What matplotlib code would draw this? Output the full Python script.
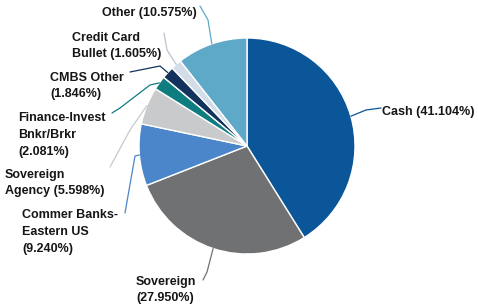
import matplotlib.pyplot as plt
import numpy as np

labels = ["Cash", "Sovereign", "Commer Banks-\nEastern US", "Sovereign\nAgency",
          "Finance-Invest\nBnkr/Brkr", "CMBS Other", "Credit Card\nBullet", "Other"]
values = [41.104, 27.950, 9.240, 5.598, 2.081, 1.846, 1.605, 10.575]
colors = ["#0b5599", "#707173", "#4a86c9", "#c9cacc", "#0f7c80", "#13335e", "#d3dde7", "#5ea8c8"]

# label text as shown, with line breaks
texts = ["Cash (41.104%)", "Sovereign\n(27.950%)", "Commer Banks-\nEastern US\n(9.240%)",
         "Sovereign\nAgency (5.598%)", "Finance-Invest\nBnkr/Brkr\n(2.081%)",
         "CMBS Other\n(1.846%)", "Credit Card\nBullet (1.605%)", "Other (10.575%)"]

W, H = 478, 307
cx, cy, R = 247, 146, 108  # pie centre / radius in pixels (y from top)

# text placement (pixel, y from top), alignment, and leader line end at text side
tpos = [(382, 112, "left"), (136, 290, "left"), (22, 232, "left"), (5, 183, "left"),
        (18, 135, "left"), (50, 86, "left"), (72, 46, "left"), (197, 13, "right")]
lend = [[(366, 110), (381, 108)], [(207, 272), (203, 280)], [(135, 156), (125, 213)],
        [(130, 130), (110, 167)], [(150, 85), (120, 108), (112, 113)],
        [(160, 66), (130, 72)], [(167, 50), (164, 33)], [(208, 20), (200, 6)]]

fig = plt.figure(figsize=(W / 100, H / 100), dpi=100)
ax = fig.add_axes([0, 0, 1, 1])

wedges, _ = ax.pie(values, colors=colors, startangle=90, counterclock=False,
                   center=(cx, H - cy), radius=R,
                   wedgeprops=dict(edgecolor="white", linewidth=1.0))
ax.set_xlim(0, W)
ax.set_ylim(0, H)
ax.set_aspect("equal")
ax.axis("off")

for w, txt, (tx, ty, ha), pts, col in zip(wedges, texts, tpos, lend, colors):
    ang = np.deg2rad((w.theta1 + w.theta2) / 2)
    ex = cx + R * np.cos(ang)
    ey = H - cy + R * np.sin(ang)
    xs = [ex] + [p[0] for p in pts]
    ys = [ey] + [H - p[1] for p in pts]
    lc = col if col not in ("#d3dde7",) else "#b9c4cf"
    ax.plot(xs, ys, color=lc, lw=0.9, solid_capstyle="round")
    ax.text(tx, H - ty, txt, ha=ha, va="center", fontsize=9, fontweight="bold",
            family="Liberation Sans", color="#161616", linespacing=1.55)

fig.savefig("out.png", dpi=100)
